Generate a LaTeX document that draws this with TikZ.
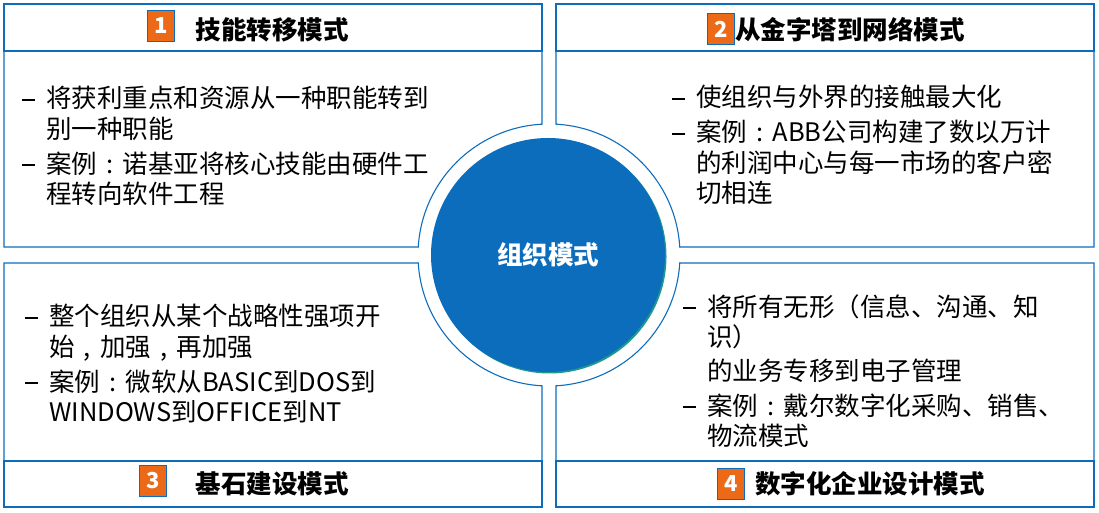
\documentclass[tikz,border=0pt]{standalone}
\usepackage{fontspec}
\setmainfont{Noto Sans CJK SC}
\usepackage{tikz}
\usepackage{xcolor}
\usetikzlibrary{calc,positioning}
\definecolor{mblue}{HTML}{0D6DBD}
\definecolor{morange}{HTML}{EC6A17}
\definecolor{mteal}{HTML}{1E998C}
\newcommand{\bdash}{\makebox[24pt][l]{\rule[7pt]{13pt}{2pt}}}
\newcommand{\bind}{\hspace*{24pt}}
\newcommand{\ccolon}{\makebox[1em]{:}}
\newcommand{\ccomma}{\makebox[1em]{,}}

\begin{document}
\begin{tikzpicture}[
          x=1pt, y=1pt,
          hdr/.style={draw=mblue, line width=2.6pt},
          bodyline/.style={draw=mblue, line width=1.1pt},
          numbox/.style={fill=morange, draw=mblue, line width=0.6pt, text=white,
            font=\bfseries\fontsize{22}{22}\selectfont,
            minimum width=27pt, minimum height=31pt, inner sep=0pt},
          ttl/.style={font=\bfseries\fontsize{25.5}{25.5}\selectfont, inner sep=0pt},
          txt/.style={font=\fontsize{25.5}{30.5}\selectfont, align=left,
            inner sep=0pt, anchor=north west}
      ]
        \useasboundingbox (0,0) rectangle (1099,513);
        \coordinate (C) at (549,258);
        \def\R{131}
        \pgfmathsetmacro{\aH}{asin(8/\R)}
        \pgfmathsetmacro{\aV}{asin(7/\R)}

        % quadrant outlines
        \draw[bodyline] (4,462) -- (4,266) -- ($(C)+(180-\aH:\R)$)
          arc[start angle=180-\aH, end angle=90+\aV, radius=\R] -- (542,462);
        \draw[bodyline] (556,462) -- ($(C)+(90-\aV:\R)$)
          arc[start angle=90-\aV, end angle=\aH, radius=\R] -- (1094,266) -- (1094,462);
        \draw[bodyline] (4,52) -- (4,250) -- ($(C)+(180+\aH:\R)$)
          arc[start angle=180+\aH, end angle=270-\aV, radius=\R] -- (542,52);
        \draw[bodyline] (1094,52) -- (1094,250) -- ($(C)+(-\aH:\R)$)
          arc[start angle=-\aH, end angle=-90+\aV, radius=\R] -- (556,52);

        \draw[hdr] (4,462) rectangle (542,509);
        \draw[hdr] (556,462) rectangle (1094,509);
        \draw[hdr] (4,6) rectangle (542,52);
        \draw[hdr] (556,6) rectangle (1094,52);

        % centre
        \fill[mteal] (549.5,256.5) circle (117);
        \node[circle, fill=mblue, minimum size=234pt, inner sep=0pt, text=white,
          font=\bfseries\fontsize{25.5}{25.5}\selectfont] (core) at (548,258) {组织模式};

        % headers
        \node[numbox] (n1) at (161,487) {1};
        \node[ttl] (t1) at (272,483) {技能转移模式};
        \node[numbox] (n2) at (721,484) {2};
        \node[ttl, anchor=west] (t2) at (735,483) {从金字塔到网络模式};
        \node[numbox] (n3) at (153,32) {3};
        \node[ttl] (t3) at (272,29) {基石建设模式};
        \node[numbox] (n4) at (731,29) {4};
        \node[ttl] (t4) at (870,29) {数字化企业设计模式};

        % bodies
        \node[txt] (b1) at (22,427) {\bdash 将获利重点和资源从一种职能转到\\
          \bind 别一种职能\\[4.5pt]
          \bdash 案例\ccolon 诺基亚将核心技能由硬件工\\
          \bind 程转向软件工程};
        \node[txt] (b2) at (672,428) {\bdash 使组织与外界的接触最大化\\[4.5pt]
          \bdash 案例\ccolon ABB公司构建了数以万计\\
          \bind 的利润中心与每一市场的客户密\\
          \bind 切相连};
        \node[txt] (b3) at (25,209) {\bdash 整个组织从某个战略性强项开\\
          \bind 始\ccomma 加强\ccomma 再加强\\[4.5pt]
          \bdash 案例\ccolon 微软从BASIC到DOS到\\
          \bind WINDOWS到OFFICE到NT};
        \node[txt] (b4) at (683,219) {\bdash 将所有无形（信息、沟通、知\\
          \bind 识）\\[3pt]
          \bind 的业务专移到电子管理\\[4.5pt]
          \bdash 案例\ccolon 戴尔数字化采购、销售、\\
          \bind 物流模式};
      \end{tikzpicture}
\end{document}
